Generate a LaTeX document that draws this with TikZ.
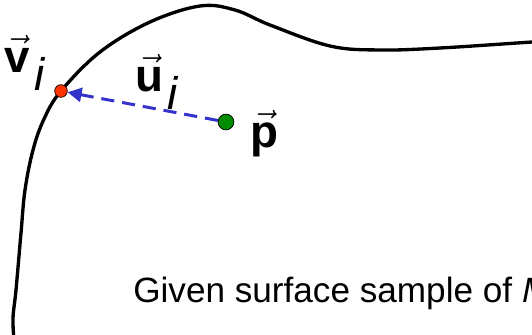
\documentclass[tikz,border=0pt]{standalone}
\usepackage{fontspec}
\setmainfont{Liberation Sans}
\usetikzlibrary{arrows.meta}
\definecolor{puntorojo}{RGB}{255,51,0}
\definecolor{puntoverde}{RGB}{0,140,0}
\definecolor{azulflecha}{RGB}{51,51,204}

\begin{document}
\begin{tikzpicture}[x=0.02cm,y=-0.02cm,
    punto/.style={circle, draw=black, thin, inner sep=0pt},
    etiqueta/.style={font=\fontsize{26}{30}\selectfont, inner sep=0pt}]
            % Marco de la figura (recortado)
            \useasboundingbox (0,0) rectangle (532,335);
            \clip (0,0) rectangle (532,335);

            % Superficie (curva negra)
            \draw[line width=1.9pt, line cap=round] plot[smooth, tension=0.6] coordinates
                {(14,340) (13,318) (16,290) (21,233) (25,190) (33,150) (44,119) (61,91)
                 (100,52) (150,22) (200,6) (235,10) (270,25) (330,46) (380,50)
                 (440,48) (532,42) (550,41)};

            % Puntos
            \node[punto, fill=puntorojo, minimum size=7.2pt] (vi) at (61,91) {};
            \node[punto, fill=puntoverde, minimum size=9pt] (p) at (226,122) {};

            % Vector u_i (discontinuo)
            \draw[azulflecha, line width=1.7pt, dash pattern=on 7.5pt off 4.5pt,
                  -{Triangle[length=8pt,width=8pt]}] (p) -- (vi);

            % Etiquetas
            \node[etiqueta] (lv) at (25,63) {$\vec{\textbf{v}}_{\,\textit{i}}$};
            \node[etiqueta] (lu) at (157,82) {$\vec{\textbf{u}}_{\,\textit{i}}$};
            \node[etiqueta] (lp) at (264,134) {$\vec{\textbf{p}}$};

            % Texto
            \node[anchor=base west, inner sep=0pt, font=\fontsize{20}{24}\selectfont] (txt)
                at (133,302) {Given surface sample of \textit{M}};
\end{tikzpicture}
\end{document}
